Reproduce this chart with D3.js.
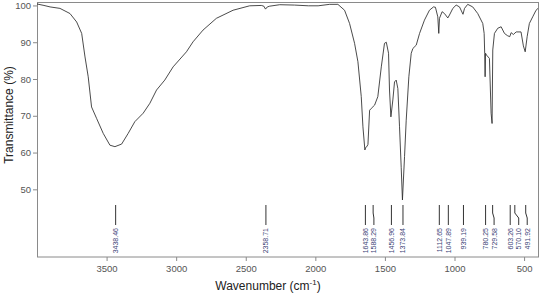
<!DOCTYPE html>
<html>
<head>
<meta charset="utf-8">
<script src="https://cdn.jsdelivr.net/npm/d3@7"></script>
<style>
  body { margin: 0; background: #fff; }
  svg { display: block; font-family: "Liberation Sans", Arial, sans-serif; }
</style>
</head>
<body>
<div id="chart"></div>
<script>
// spectrum: wavenumber (cm-1) and transmittance (%)
let wavenumbers = [4000, 3950, 3906, 3835, 3763, 3715, 3679, 3655, 3632, 3608, 3572, 3524, 3476, 3440, 3392,
  3345, 3297, 3237, 3189, 3141, 3082, 3022, 2926, 2879, 2807, 2711, 2591, 2472, 2388, 2370, 2358, 2345, 2328,
  2256, 2150, 2050, 1980, 1897, 1838, 1790, 1754, 1718, 1694, 1670, 1658, 1644, 1638, 1630, 1622, 1610, 1598,
  1574, 1551, 1526, 1503, 1490, 1474, 1467, 1457, 1443, 1431, 1419, 1407, 1395, 1383, 1374, 1359, 1347, 1328,
  1311, 1299, 1275, 1251, 1216, 1180, 1151, 1137, 1120, 1113, 1108, 1089, 1072, 1048, 1036, 1012, 988, 964,
  939, 928, 905, 869, 833, 797, 787, 783, 780, 777, 770, 749, 737, 730, 725, 713, 689, 665, 641, 620, 603,
  593, 577, 557, 522, 505, 492, 478, 462, 438, 414, 400];
let transmittance = [100.4, 100.0, 99.6, 99.2, 97.8, 95.5, 92.4, 86.0, 80.6, 72.4, 69.3, 65.2, 62.0, 61.6, 62.3,
  65.2, 68.4, 70.7, 73.4, 77.0, 79.7, 83.3, 87.4, 90.1, 93.3, 96.5, 98.7, 99.9, 100.0, 99.8, 99.0, 99.6, 99.8,
  100.2, 100.1, 99.9, 99.9, 100.3, 100.3, 98.7, 95.1, 89.7, 84.7, 75.2, 67.0, 60.7, 61.4, 61.6, 62.2, 71.5, 72.0,
  72.9, 75.2, 83.3, 89.7, 90.0, 87.0, 77.0, 69.7, 74.3, 79.2, 79.7, 77.4, 67.0, 56.0, 47.1, 58.9, 68.8, 80.6,
  87.0, 88.3, 89.2, 92.4, 96.0, 98.7, 99.6, 99.5, 96.9, 92.4, 96.5, 98.3, 97.8, 96.6, 97.4, 99.2, 100.1, 99.6,
  97.6, 99.2, 100.3, 99.6, 97.8, 95.1, 92.4, 87.0, 80.6, 87.0, 86.5, 85.6, 70.7, 67.9, 87.9, 92.4, 93.8, 94.2,
  92.4, 91.8, 91.5, 92.6, 92.1, 92.8, 92.8, 89.0, 87.4, 91.5, 95.1, 96.9, 98.7, 99.2];

let peaks = ["3438.46", "2358.71", "1643.86", "1588.29", "1456.96", "1373.84", "1112.65", "1047.89",
  "939.19", "780.25", "729.58", "603.26", "570.10", "491.92"];

let xTicks = [3500, 3000, 2500, 2000, 1500, 1000, 500];
let yTicks = [50, 60, 70, 80, 90, 100];

let w = 540;
let h = 293;
let mLeft = 37, mRight = 538, mTop = 2.5, mBottom = 257;

let svg = d3.select('#chart').append('svg').attr('width', w).attr('height', h);

let x = d3.scaleLinear().domain([4000, 400]).range([mLeft, mRight]);
let y = d3.scaleLinear().domain([31.6, 100.8]).range([mBottom, mTop]);

// frame
svg.append('rect')
  .attr('x', mLeft + 0.5).attr('y', mTop)
  .attr('width', mRight - mLeft).attr('height', mBottom - mTop)
  .attr('fill', 'none').attr('stroke', '#8a8a8a').attr('stroke-width', 1);

let xAxis = svg.append('g')
  .attr('transform', 'translate(0,' + mBottom + ')')
  .call(d3.axisBottom(x).tickValues(xTicks).tickSize(4).tickPadding(4).tickFormat(d3.format('d')));
let yAxis = svg.append('g')
  .attr('transform', 'translate(' + mLeft + ',0)')
  .call(d3.axisLeft(y).tickValues(yTicks).tickSize(4).tickPadding(2).tickFormat(d3.format('d')));

[xAxis, yAxis].forEach(a => {
  a.select('.domain').remove();
  a.selectAll('line').attr('stroke', '#8a8a8a');
  a.selectAll('text').attr('fill', '#555').style('font-size', '9.5px')
    .style('font-family', '"Liberation Sans", Arial, sans-serif');
});

// spectrum
let pts = wavenumbers.map((wn, i) => [wn, transmittance[i]]);
let line = d3.line().x(d => x(d[0])).y(d => y(d[1]));
svg.append('path')
  .datum(pts)
  .attr('d', line)
  .attr('fill', 'none')
  .attr('stroke', '#2a2a2a')
  .attr('stroke-width', 0.85);

// peak markers, pushed apart where they crowd
let gap = 8.5;
let prev = -Infinity;
let marks = peaks.map(p => {
  let px = x(+p);
  let lx = Math.max(px, prev + gap);
  prev = lx;
  return {label: p, px: px, lx: lx};
});

let y0 = mBottom - 52, y1 = mBottom - 44, y2 = mBottom - 39, y3 = mBottom - 32;
let pg = svg.append('g');
pg.selectAll('path.lead').data(marks).enter().append('path')
  .attr('class', 'lead')
  .attr('d', d => 'M' + (d.px + 0.5) + ',' + y0 + 'V' + y1 + 'L' + (d.lx + 0.5) + ',' + y2 + 'V' + y3)
  .attr('fill', 'none').attr('stroke', '#333').attr('stroke-width', 1);

pg.selectAll('text').data(marks).enter().append('text')
  .attr('transform', d => 'translate(' + (d.lx + 3) + ',' + (mBottom - 29) + ') rotate(-90)')
  .attr('text-anchor', 'end')
  .attr('fill', '#3b4275')
  .style('font-size', '7px')
  .text(d => d.label);

// axis titles
let xt = svg.append('text')
  .attr('x', 268).attr('y', 289.5)
  .attr('text-anchor', 'middle')
  .attr('fill', '#222')
  .style('font-size', '12px');
xt.append('tspan').text('Wavenumber (cm');
xt.append('tspan').attr('dy', -5).style('font-size', '8px').text('-1');
xt.append('tspan').attr('dy', 5).text(')');

svg.append('text')
  .attr('transform', 'translate(12.5,115) rotate(-90)')
  .attr('text-anchor', 'middle')
  .attr('fill', '#222')
  .style('font-size', '12px')
  .text('Transmittance (%)');
</script>
</body>
</html>
